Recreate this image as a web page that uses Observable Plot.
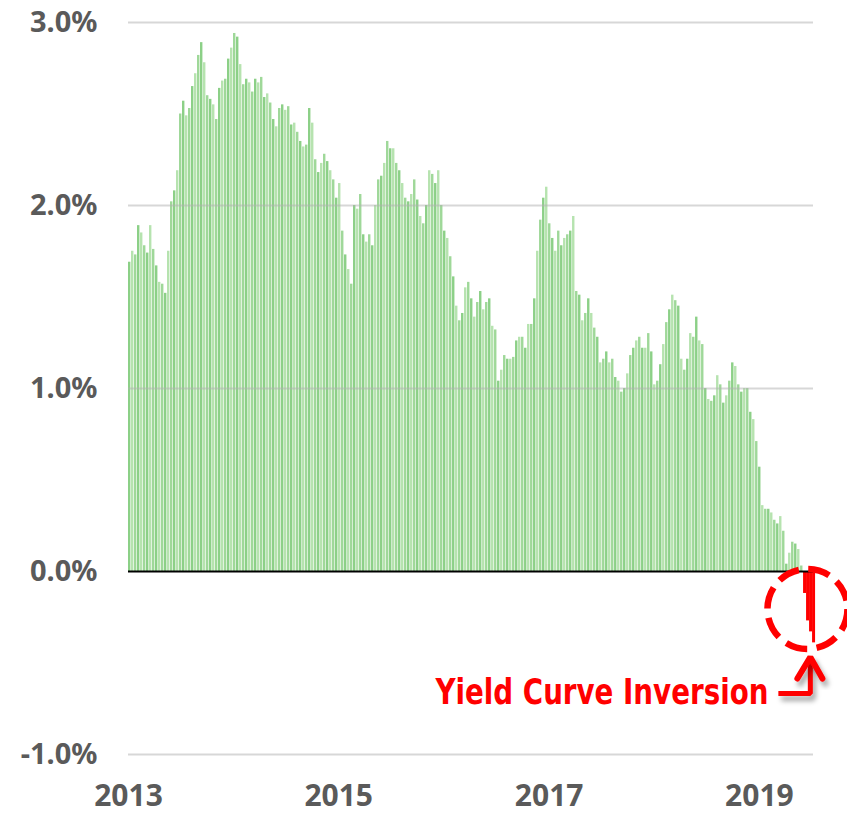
<!DOCTYPE html>
<html>
<head>
<meta charset="utf-8">
<script src="https://cdn.jsdelivr.net/npm/d3@7"></script>
<script src="https://cdn.jsdelivr.net/npm/@observablehq/plot@0.6"></script>
<style>
  html, body { margin: 0; padding: 0; background: #fff; }
  #chart svg { display: block; }
</style>
</head>
<body>
<div id="chart"></div>
<script>
// 10-year minus 3-month Treasury spread (%), sampled about every 10.4 days from Jan 2013
const startDate = "2013-01-01";
const stepDays = 10.42;
const spread = [
  1.69,1.75,1.73,1.89,1.85,1.78,1.74,1.89,1.76,1.67,1.58,1.57,1.52,1.75,2.02,2.08,2.19,2.50,2.57,2.49,
  2.53,2.65,2.72,2.82,2.89,2.78,2.60,2.58,2.55,2.47,2.64,2.68,2.69,2.80,2.86,2.94,2.92,2.77,2.66,2.69,
  2.67,2.62,2.69,2.67,2.70,2.59,2.61,2.56,2.47,2.43,2.53,2.55,2.52,2.54,2.44,2.45,2.40,2.35,2.32,2.33,
  2.53,2.45,2.25,2.18,2.23,2.28,2.24,2.19,2.14,2.04,2.12,1.86,1.73,1.65,1.57,2.00,1.98,2.06,1.84,1.80,
  1.84,1.78,2.00,2.14,2.16,2.23,2.35,2.31,2.31,2.23,2.19,2.12,2.04,2.02,2.06,2.14,2.03,1.94,1.90,2.00,
  2.19,2.17,2.12,2.19,2.00,1.86,1.82,1.72,1.61,1.45,1.37,1.41,1.55,1.58,1.49,1.39,1.47,1.53,
  1.43,1.47,1.49,1.34,1.32,1.04,1.10,1.18,1.16,1.16,1.17,1.26,1.28,1.28,1.22,1.35,1.35,1.49,1.75,1.92,
  2.04,2.10,1.90,1.82,1.75,1.86,1.78,1.82,1.84,1.86,1.94,1.53,1.51,1.37,1.41,1.49,1.41,1.33,1.28,1.14,
  1.16,1.20,1.14,1.16,1.06,1.04,0.98,1.00,1.08,1.18,1.22,1.26,1.28,1.22,1.22,1.30,1.20,1.02,
  1.04,1.13,1.24,1.36,1.43,1.51,1.48,1.45,1.16,1.10,1.16,1.30,1.28,1.39,1.26,1.24,1.00,0.94,0.93,0.96,
  1.07,1.02,0.92,0.96,1.04,1.14,1.12,1.02,0.98,1.00,1.00,0.87,0.83,0.71,0.57,0.36,0.34,0.34,0.32,0.28,
  0.26,0.30,0.22,0.04,0.10,0.16,0.15,0.12,0.03,-0.12,-0.27,-0.33,-0.39
];

const xDomain = ["2013-01-01", "2019-07-08"];
const xTicks = ["2013-01-01", "2015-01-01", "2017-01-01", "2019-01-01"];
const yTicks = [-1, 0, 1, 2, 3];

// annotation anchors (data coordinates)
const annotLabel = ["Yield Curve Inversion"];
const annotLabelAt = [{date: "2015-12-03", value: -0.66}];
const circleAt = [{date: "2019-06-17", value: -0.205}];
const arrowShaft = [
  {date: "2019-03-08", value: -0.667},
  {date: "2019-06-27", value: -0.667},
  {date: "2019-06-27", value: -0.47}
];
const arrowHead = [
  {date: "2019-05-13", value: -0.585},
  {date: "2019-06-27", value: -0.468},
  {date: "2019-08-08", value: -0.585}
];

const dayMs = 864e5;
const t0 = Date.parse(startDate);
const data = spread.map((v, i) => ({
  date: new Date(t0 + i * stepDays * dayMs),
  end: new Date(t0 + (i + 1) * stepDays * dayMs),
  value: v,
  i
}));
const parse = s => new Date(s);
const darkGreen = "#8cd087", lightGreen = "#b6e3af", midGreen = "#9fd899", red = "#ff0000";

const plot = Plot.plot({
  width: 847,
  height: 815,
  marginLeft: 128,
  marginRight: 34,
  marginTop: 22,
  marginBottom: 61,
  style: {fontFamily: "'Noto Sans', sans-serif", fontSize: "29px", fontWeight: "bold", color: "#5a5a5a", background: "#fff"},
  x: {type: "utc", domain: xDomain.map(parse), label: null},
  y: {domain: [-1, 3], label: null},
  color: {type: "identity"},
  marks: [
    Plot.rectY(data.filter(d => d.value >= 0), {
      x1: "date", x2: "end", y: "value",
      fill: d => d.i % 3 === 1 ? lightGreen : (d.i % 3 === 2 ? midGreen : darkGreen),
      insetRight: 0.6
    }),
    Plot.rectY(data.filter(d => d.value < 0), {
      x1: "date", x2: "end", y: "value", fill: red
    }),
    Plot.ruleY(yTicks.filter(d => d !== 0), {stroke: "#b0b0b0", strokeOpacity: 0.5, strokeWidth: 2}),
    Plot.ruleY([0], {stroke: "#000", strokeWidth: 2}),
    Plot.axisY(yTicks, {tickSize: 0, tickPadding: 31, tickFormat: d => d.toFixed(1) + "%"}),
    Plot.axisX(xTicks.map(parse), {tickSize: 0, tickPadding: 30, tickFormat: "%Y", fontSize: 30}),
    Plot.dot(circleAt, {
      x: d => parse(d.date), y: "value", r: 40,
      stroke: red, strokeWidth: 6.5, strokeDasharray: "22,9.5", fill: "none"
    }),
    Plot.line(arrowShaft, {
      x: d => parse(d.date), y: "value", stroke: red, strokeWidth: 5,
      strokeLinejoin: "miter", strokeLinecap: "butt", ariaDescription: "arrow"
    }),
    Plot.line(arrowHead, {
      x: d => parse(d.date), y: "value", stroke: red, strokeWidth: 6,
      strokeLinejoin: "miter", strokeLinecap: "round", ariaDescription: "arrow"
    }),
    Plot.text(annotLabelAt, {
      x: d => parse(d.date), y: "value", text: () => annotLabel[0],
      textAnchor: "start", lineAnchor: "middle", fill: red, fontSize: 36,
      fontWeight: "bold", fontFamily: "'Liberation Sans Narrow', 'DejaVu Sans Condensed', sans-serif",
      ariaDescription: "annot"
    })
  ]
});

document.getElementById("chart").appendChild(plot);

// drop shadow for the arrow, and fit the annotation width
const svg = d3.select(plot);
const defs = svg.insert("defs", ":first-child");
const f = defs.append("filter").attr("id", "arrowShadow")
  .attr("x", "-50%").attr("y", "-50%").attr("width", "200%").attr("height", "200%");
f.append("feDropShadow").attr("dx", 3).attr("dy", 5).attr("stdDeviation", 2.5)
  .attr("flood-color", "#000").attr("flood-opacity", 0.35);
svg.selectAll("[aria-description=arrow]").attr("filter", "url(#arrowShadow)");
svg.selectAll("[aria-description=annot] text")
  .attr("textLength", 333).attr("lengthAdjust", "spacingAndGlyphs");
</script>
</body>
</html>
